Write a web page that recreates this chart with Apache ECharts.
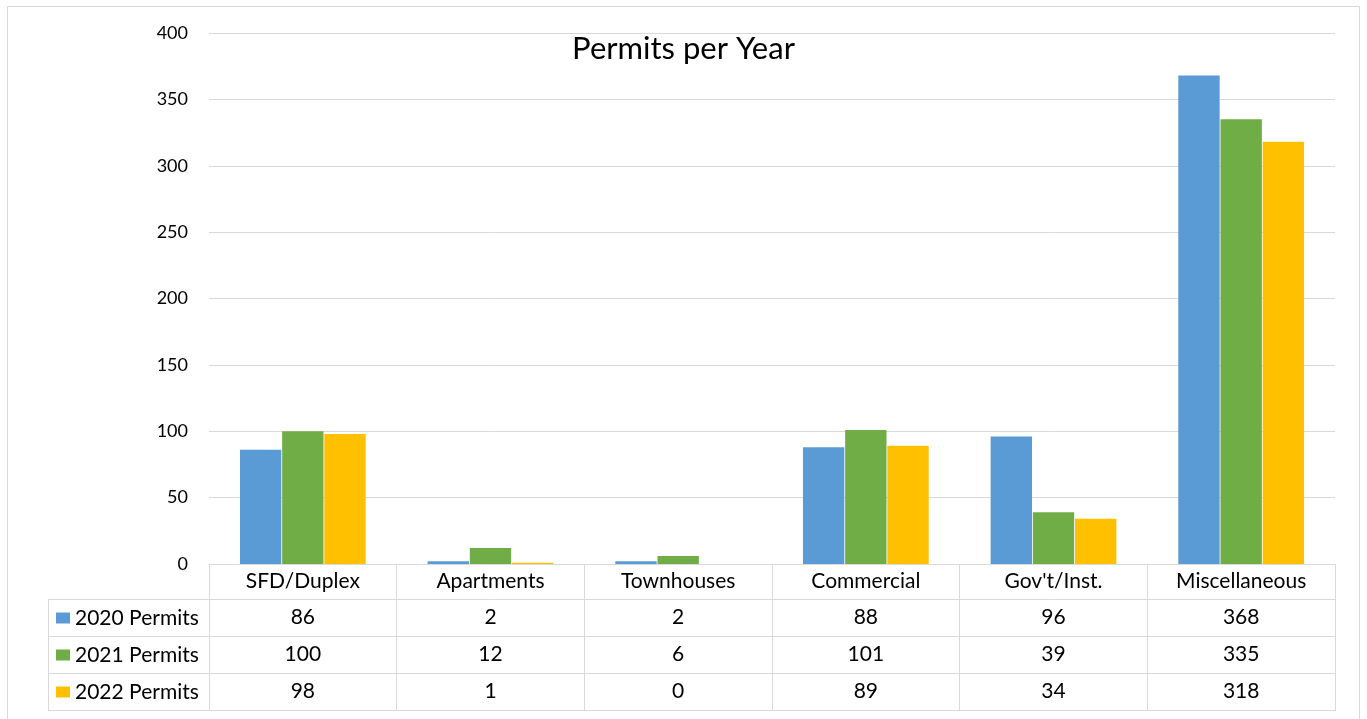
<!DOCTYPE html>
<html><head><meta charset="utf-8">
<script src="https://cdn.jsdelivr.net/npm/echarts@6/dist/echarts.min.js"></script>
<style>html,body{margin:0;padding:0;background:#fff}#c{width:1367px;height:719px}</style>
</head><body><div id="c"></div>
<script>
const categories = ['SFD/Duplex','Apartments','Townhouses','Commercial',"Gov't/Inst.",'Miscellaneous'];
const seriesNames = ['2020 Permits','2021 Permits','2022 Permits'];
const permits2020 = [86, 2, 2, 88, 96, 368];
const permits2021 = [100, 12, 6, 101, 39, 335];
const permits2022 = [98, 1, 0, 89, 34, 318];
const yTicks = {min: 0, max: 400, interval: 50};

const colors = ['#5B9BD5', '#70AD47', '#FFC000'];
const FONT = 'Lato';
const TFS = 21;
const gridLine = '#D9D9D9';
const G = {left: 209, right: 32, top: 33, bottom: 155};
const rowH = 37, headH = 35;
const tableLeft = 48;
const H = 719, W = 1367;
const axisY = H - G.bottom;

const rows = [permits2020, permits2021, permits2022];

const xAxes = [{
  type: 'category', data: categories, gridIndex: 0,
  axisLine: {show: true, lineStyle: {color: gridLine, width: 1}},
  axisTick: {show: true, inside: false, length: headH + rowH * 3 + 1, lineStyle: {color: gridLine}},
  axisLabel: {fontFamily: FONT, fontSize: TFS, color: '#000', margin: 7}
}];
rows.forEach((vals, r) => {
  xAxes.push({
    type: 'category', data: categories, gridIndex: 0, position: 'bottom',
    offset: headH + rowH * r,
    axisLine: {show: true, lineStyle: {color: gridLine, width: 1}},
    axisTick: {show: false},
    axisLabel: {fontFamily: FONT, fontSize: TFS, color: '#000', margin: 8,
      formatter: (v, i) => String(vals[i])}
  });
});
xAxes.push({
  type: 'category', data: categories, gridIndex: 0, position: 'bottom',
  offset: headH + rowH * 3,
  axisLine: {show: true, lineStyle: {color: gridLine, width: 1}},
  axisTick: {show: false}, axisLabel: {show: false}
});

const graphics = [
  {type: 'rect', shape: {x: 7.5, y: 6.5, width: 1352, height: 730}, style: {fill: 'none', stroke: gridLine, lineWidth: 1}, silent: true},
  {type: 'line', shape: {x1: tableLeft + 0.5, y1: axisY + headH, x2: tableLeft + 0.5, y2: axisY + headH + rowH * 3}, style: {stroke: gridLine, lineWidth: 1}, silent: true}
];
for (let r = 0; r <= 3; r++) {
  const y = axisY + headH + rowH * r + 0.5;
  graphics.push({type: 'line', shape: {x1: tableLeft, y1: y, x2: G.left, y2: y}, style: {stroke: gridLine, lineWidth: 1}, silent: true});
}

const chart = echarts.init(document.getElementById('c'));
chart.setOption({
  animation: false,
  color: colors,
  title: {text: 'Permits per Year', left: 'center', top: 28,
    textStyle: {fontFamily: FONT, fontSize: 31, fontWeight: 'normal', color: '#000'}},
  legend: {orient: 'vertical', left: 56, top: axisY + headH + 8, padding: 0,
    itemWidth: 14, itemHeight: 11, itemGap: 15, icon: 'rect',
    textStyle: {fontFamily: FONT, fontSize: TFS, color: '#000', lineHeight: 22},
    data: seriesNames},
  grid: {left: G.left, right: G.right, top: G.top, bottom: G.bottom, containLabel: false},
  xAxis: xAxes,
  yAxis: {type: 'value', min: yTicks.min, max: yTicks.max, interval: yTicks.interval,
    axisLine: {show: false}, axisTick: {show: false},
    axisLabel: {fontFamily: FONT, fontSize: 18, color: '#000', margin: 21},
    splitLine: {lineStyle: {color: gridLine, width: 1}}},
  series: rows.map((vals, i) => ({
    name: seriesNames[i], type: 'bar', xAxisIndex: 0, data: vals,
    barGap: '2%', barCategoryGap: '33%'
  })),
  graphic: graphics
});
</script></body></html>
